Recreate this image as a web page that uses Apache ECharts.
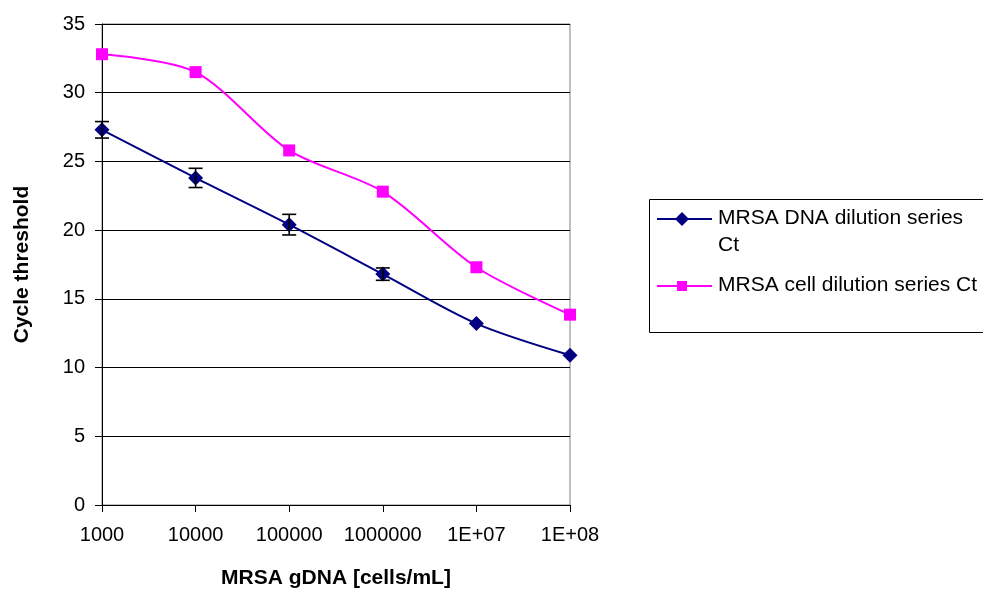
<!DOCTYPE html>
<html>
<head>
<meta charset="utf-8">
<script src="https://cdn.jsdelivr.net/npm/echarts@6/dist/echarts.min.js"></script>
<style>
html,body{margin:0;padding:0;background:#fff;}
#chart{width:983px;height:594px;}
</style>
</head>
<body>
<div id="chart"></div>
<script>
var categories = ['1000', '10000', '100000', '1000000', '1E+07', '1E+08'];
var dnaCt = [27.3, 23.8, 20.4, 16.8, 13.2, 10.9];
var dnaErr = [0.6, 0.7, 0.75, 0.45, 0, 0];
var cellCt = [32.8, 31.5, 25.8, 22.8, 17.3, 13.85];
var yTicks = [0, 5, 10, 15, 20, 25, 30, 35];
var seriesNames = ['MRSA DNA dilution series Ct', 'MRSA cell dilution series Ct'];

var FONT = '"Liberation Sans", Arial, sans-serif';
var chart = echarts.init(document.getElementById('chart'), null, {renderer: 'canvas'});

var errData = [];
for (var i = 0; i < categories.length; i++) {
  if (dnaErr[i] > 0) errData.push([i, dnaCt[i] - dnaErr[i], dnaCt[i] + dnaErr[i]]);
}

var option = {
  backgroundColor: '#ffffff',
  animation: false,
  grid: {left: 102, top: 24, width: 468, height: 485, show: true, borderColor: '#808080', borderWidth: 1, backgroundColor: 'transparent'},
  xAxis: {
    type: 'category',
    data: categories,
    boundaryGap: false,
    axisLine: {lineStyle: {color: '#000', width: 1}},
    axisTick: {show: true, alignWithLabel: true, interval: 0, length: 7, lineStyle: {color: '#000'}},
    axisLabel: {color: '#000', fontFamily: FONT, fontSize: 20, margin: 20, interval: 0},
    splitLine: {show: false},
    name: 'MRSA gDNA [cells/mL]',
    nameLocation: 'middle',
    nameGap: 63,
    nameTextStyle: {color: '#000', fontFamily: FONT, fontSize: 21, fontWeight: 'bold'}
  },
  yAxis: {
    type: 'value',
    min: yTicks[0],
    max: yTicks[yTicks.length - 1],
    interval: 5,
    axisLine: {show: true, lineStyle: {color: '#000', width: 1}},
    axisTick: {show: true, length: 7, lineStyle: {color: '#000'}},
    axisLabel: {color: '#000', fontFamily: FONT, fontSize: 20, margin: 17},
    splitLine: {show: true, lineStyle: {color: '#000', width: 1}},
    name: 'Cycle threshold',
    nameLocation: 'middle',
    nameGap: 69,
    nameTextStyle: {color: '#000', fontFamily: FONT, fontSize: 21, fontWeight: 'bold'}
  },
  series: [
    {
      name: seriesNames[0],
      type: 'line',
      data: dnaCt,
      smooth: 0.3,
      symbol: 'diamond',
      symbolSize: 15,
      lineStyle: {color: '#000080', width: 2},
      itemStyle: {color: '#000080'},
      z: 3
    },
    {
      name: seriesNames[1],
      type: 'line',
      data: cellCt,
      smooth: 0.3,
      symbol: 'rect',
      symbolSize: 12,
      lineStyle: {color: '#FF00FF', width: 2},
      itemStyle: {color: '#FF00FF'},
      z: 3
    },
    {
      type: 'custom',
      name: 'err',
      data: errData,
      z: 4,
      renderItem: function (params, api) {
        var x = api.value(0);
        var lo = api.coord([x, api.value(1)]);
        var hi = api.coord([x, api.value(2)]);
        var hw = 7;
        var st = {stroke: '#000', lineWidth: 1.6};
        return {
          type: 'group',
          children: [
            {type: 'line', shape: {x1: lo[0], y1: lo[1], x2: hi[0], y2: hi[1]}, style: st},
            {type: 'line', shape: {x1: lo[0] - hw, y1: lo[1], x2: lo[0] + hw, y2: lo[1]}, style: st},
            {type: 'line', shape: {x1: hi[0] - hw, y1: hi[1], x2: hi[0] + hw, y2: hi[1]}, style: st}
          ]
        };
      }
    }
  ],
  graphic: [
    {type: 'rect', shape: {x: 649.5, y: 199.5, width: 340, height: 133}, style: {fill: '#fff', stroke: '#000', lineWidth: 1}, z: 10},
    {type: 'line', shape: {x1: 657, y1: 219, x2: 712, y2: 219}, style: {stroke: '#000080', lineWidth: 2}, z: 11},
    {type: 'polygon', shape: {points: [[682, 212], [689, 219], [682, 226], [675, 219]]}, style: {fill: '#000080'}, z: 11},
    {type: 'text', left: 718, top: 205, style: {text: 'MRSA DNA dilution series\nCt', fill: '#000', font: '21px "Liberation Sans", Arial, sans-serif', lineHeight: 27}, z: 11},
    {type: 'line', shape: {x1: 657, y1: 286, x2: 712, y2: 286}, style: {stroke: '#FF00FF', lineWidth: 2}, z: 11},
    {type: 'rect', shape: {x: 677, y: 281, width: 10, height: 10}, style: {fill: '#FF00FF'}, z: 11},
    {type: 'text', left: 718, top: 272, style: {text: 'MRSA cell dilution series Ct', fill: '#000', font: '21px "Liberation Sans", Arial, sans-serif', lineHeight: 27}, z: 11}
  ]
};
chart.setOption(option);
</script>
</body>
</html>
